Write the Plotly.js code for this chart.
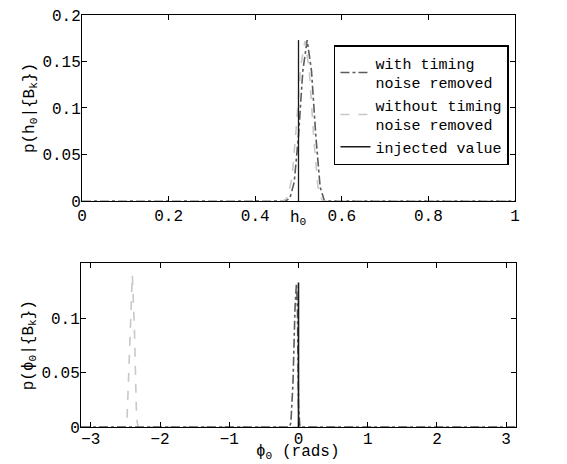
<!DOCTYPE html>
<html>
<head>
<meta charset="utf-8">
<script src="https://cdn.plot.ly/plotly-3.0.1.min.js"></script>
<style>html,body{margin:0;padding:0;background:#fff;}#chart{width:567px;height:464px;}</style>
</head>
<body>
<div id="chart"></div>
<script>
// ---- Top panel: posterior of h0 ----
const h0WithX    = [0, 0.47, 0.48, 0.49, 0.50, 0.51, 0.52, 0.53, 0.54, 0.55, 0.56, 1];
const h0WithY    = [0, 0, 0.003, 0.02, 0.07, 0.14, 0.173, 0.14, 0.07, 0.015, 0, 0];
const h0WithoutX = [0, 0.465, 0.475, 0.485, 0.495, 0.505, 0.515, 0.525, 0.535, 0.545, 0.555, 1];
const h0WithoutY = [0, 0, 0.004, 0.025, 0.08, 0.145, 0.172, 0.14, 0.07, 0.015, 0, 0];
const h0InjX     = [0.5, 0.5];
const h0InjY     = [0, 0.173];

// ---- Bottom panel: posterior of phi0 ----
const phiWithX    = [-3.1416, -0.13, -0.11, -0.08, -0.05, -0.03, -0.015, 0, 0.02, 3.1416];
const phiWithY    = [0, 0, 0.004, 0.04, 0.11, 0.132, 0.11, 0.02, 0, 0];
const phiWithoutX = [-3.1416, -2.50, -2.48, -2.44, -2.40, -2.37, -2.34, -2.32, 3.1416];
const phiWithoutY = [0, 0, 0.002, 0.07, 0.14, 0.09, 0.01, 0, 0];
const phiInjX     = [0, 0];
const phiInjY     = [0, 0.133];

const legendNames = ['with timing<br>noise removed', 'without timing<br>noise removed', 'injected value'];
const topXTicks = [0, 0.2, 0.4, 0.6, 0.8, 1];
const topXLabels = ['0', '0.2', '0.4', '0.6', '0.8', '1'];
const topYTicks = [0, 0.05, 0.1, 0.15, 0.2];
const topYLabels = ['0', '0.05', '0.1', '0.15', '0.2'];
const botXTicks = [-3, -2, -1, 0, 1, 2, 3];
const botXLabels = ['\u22123', '\u22122', '\u22121', '0', '1', '2', '3'];
const botYTicks = [0, 0.05, 0.1];
const botYLabels = ['0', '0.05', '0.1'];
const topXTitle = 'h<sub>0</sub>';
const botXTitle = '\u03d5<sub>0</sub> (rads)';

const FONT = 'Liberation Mono, Courier New, monospace';
const FS = 16;
const cWith = '#5c5c5c', cWithout = '#c8c8c8', cInj = '#1a1a1a';

const traces = [
  {x: h0WithX, y: h0WithY, name: legendNames[0], mode: 'lines', line: {color: cWith, dash: 'dashdot', width: 1.6}, xaxis: 'x', yaxis: 'y'},
  {x: h0WithoutX, y: h0WithoutY, name: legendNames[1], mode: 'lines', line: {color: cWithout, dash: 'dash', width: 1.6}, xaxis: 'x', yaxis: 'y'},
  {x: h0InjX, y: h0InjY, name: legendNames[2], mode: 'lines', line: {color: cInj, width: 1.3}, xaxis: 'x', yaxis: 'y'},
  {x: phiWithoutX, y: phiWithoutY, showlegend: false, mode: 'lines', line: {color: cWithout, dash: 'dash', width: 1.6}, xaxis: 'x2', yaxis: 'y2'},
  {x: phiWithX, y: phiWithY, showlegend: false, mode: 'lines', line: {color: cWith, dash: 'dashdot', width: 1.6}, xaxis: 'x2', yaxis: 'y2'},
  {x: phiInjX, y: phiInjY, showlegend: false, mode: 'lines', line: {color: cInj, width: 1.6}, xaxis: 'x2', yaxis: 'y2'}
];

const axCommon = {
  showgrid: false, zeroline: false, showline: true, linecolor: '#000', linewidth: 1,
  mirror: 'ticks', ticks: 'inside', ticklen: 5, tickcolor: '#000',
  tickfont: {family: FONT, size: FS, color: '#000'}
};

const layout = {
  width: 567, height: 464,
  margin: {l: 0, r: 0, t: 0, b: 0},
  paper_bgcolor: '#fff', plot_bgcolor: '#fff',
  font: {family: FONT, size: FS, color: '#000'},
  showlegend: true,
  legend: {
    x: 0.589, y: 0.903, xanchor: 'left', yanchor: 'top',
    bgcolor: '#fff', bordercolor: '#000', borderwidth: 1.5,
    font: {family: FONT, size: 15, color: '#000'},
    tracegroupgap: 0, itemwidth: 30
  },
  xaxis: Object.assign({}, axCommon, {
    domain: [0.1446, 0.9083], range: [0, 1], tickvals: topXTicks, ticktext: topXLabels,
    anchor: 'y'
  }),
  yaxis: Object.assign({}, axCommon, {
    domain: [0.5668, 0.9677], range: [0, 0.2], tickvals: topYTicks, ticktext: topYLabels,
    ticklabelstandoff: -3,
    anchor: 'x', title: {text: 'p(h<sub>0</sub>|{B<sub>k</sub>})', font: {family: FONT, size: FS}}
  }),
  xaxis2: Object.assign({}, axCommon, {
    domain: [0.1429, 0.910], range: [-3.1416, 3.1416], tickvals: botXTicks, ticktext: botXLabels,
    ticklabelstandoff: -3,
    anchor: 'y2'
  }),
  yaxis2: Object.assign({}, axCommon, {
    domain: [0.0797, 0.4325], range: [0, 0.1506], tickvals: botYTicks, ticktext: botYLabels,
    ticklabelstandoff: -3,
    anchor: 'x2', title: {text: 'p(\u03d5<sub>0</sub>|{B<sub>k</sub>})', font: {family: FONT, size: FS}}
  }),
  annotations: [
    {text: topXTitle, xref: 'x domain', yref: 'paper', x: 0.5, y: 1 - 207 / 464,
     xanchor: 'center', yanchor: 'top', showarrow: false, font: {family: FONT, size: FS, color: '#000'}},
    {text: botXTitle, xref: 'x2 domain', yref: 'paper', x: 0.5, y: 0,
     xanchor: 'center', yanchor: 'bottom', showarrow: false, font: {family: FONT, size: FS, color: '#000'}}
  ]
};

Plotly.newPlot('chart', traces, layout, {displayModeBar: false, staticPlot: true});
</script>
</body>
</html>
